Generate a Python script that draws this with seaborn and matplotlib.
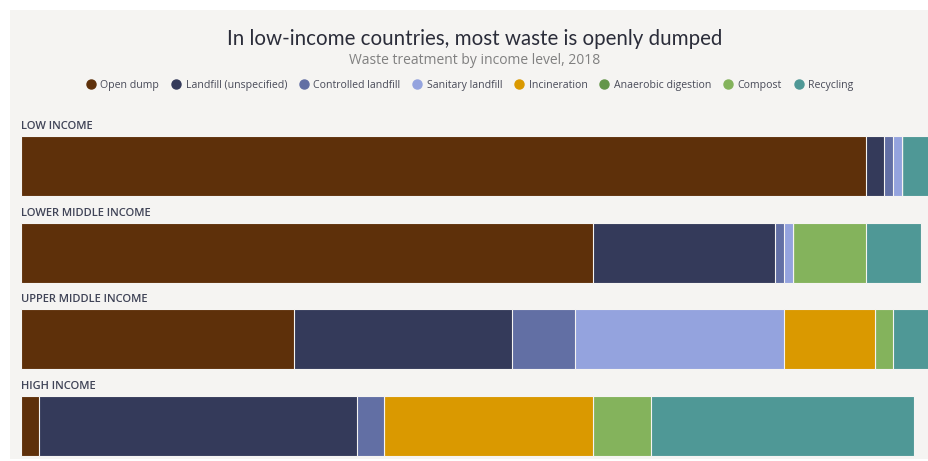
import matplotlib
matplotlib.use("Agg")
import matplotlib.pyplot as plt
from matplotlib.patches import Rectangle
from matplotlib.lines import Line2D
import matplotlib.transforms as mtransforms
import seaborn as sns
import pandas as pd
import numpy as np

# ---- data ----
categories = ["LOW INCOME", "LOWER MIDDLE INCOME", "UPPER MIDDLE INCOME", "HIGH INCOME"]
series_names = ["Open dump", "Landfill (unspecified)", "Controlled landfill", "Sanitary landfill",
                "Incineration", "Anaerobic digestion", "Compost", "Recycling"]
open_dump = [93, 63, 30, 2]
landfill_unspecified = [2, 20, 24, 35]
controlled_landfill = [1, 1, 7, 3]
sanitary_landfill = [1, 1, 23, 0]
incineration = [0, 0, 10, 23]
anaerobic_digestion = [0, 0, 0, 0]
compost = [0, 8, 2, 6.3]
recycling = [3, 6, 4, 29]

colors = ["#5e300a", "#343a5a", "#626fa4", "#94a3de", "#da9900", "#64964a", "#84b35c", "#4f9896"]

series = [open_dump, landfill_unspecified, controlled_landfill, sanitary_landfill,
          incineration, anaerobic_digestion, compost, recycling]

W, H = 929, 461
sns.set_theme(style="white")
plt.rcParams["font.family"] = ["Open Sans", "DejaVu Sans"]
fig = plt.figure(figsize=(W / 100, H / 100), dpi=100)
fig.patch.set_facecolor("white")
fig.patches.append(Rectangle((10 / W, 2 / H), 1, (459 - 10) / H, transform=fig.transFigure,
                             facecolor="#f5f4f2", edgecolor="none", zorder=-10))

# axes: x 0..100 maps to px 21..929.6 ; categories centers at 166 .. 426 px
ax_left = 21 / W
ax_w = 908.6 / W
ax = fig.add_axes([ax_left, 0.3 / H, ax_w, 346.7 / H])
ax.set_facecolor("none")

cum = np.zeros(len(categories))
cums = []
for s in series:
    cum = cum + np.array(s, dtype=float)
    cums.append(cum.copy())

for name, c, col in reversed(list(zip(series_names, cums, colors))):
    d = pd.DataFrame({"income": categories, "value": c})
    sns.barplot(data=d, x="value", y="income", order=categories, orient="h",
                color=col, saturation=1, width=0.69, errorbar=None,
                edgecolor="#f5f4f2", linewidth=0.8, ax=ax)

ax.set_xlim(0, 100)
ax.set_ylim(3.4, -0.6)
for sp in ax.spines.values():
    sp.set_visible(False)
ax.set_xticks([])
ax.set_yticks([])
ax.set_xlabel("")
ax.set_ylabel("")

trans = mtransforms.blended_transform_factory(ax.transAxes, ax.transData)
labels = []
for i, cat in enumerate(categories):
    t = ax.text(0, i - 0.345 - 0.45 * 0.25, cat, transform=trans, ha="left", va="center",
                fontsize=7.5, fontweight="semibold", color="#404457")
    labels.append(t)

title = fig.text(475 / W, 1 - 39 / H, "In low-income countries, most waste is openly dumped",
                 ha="center", va="center", fontsize=14, color="#2b2d3a", family=["Lato", "DejaVu Sans"])
subtitle = fig.text(475 / W, 1 - 60.5 / H, "Waste treatment by income level, 2018",
                    ha="center", va="center", fontsize=10, color="#808080", family=["Open Sans", "DejaVu Sans"])

handles = [Line2D([], [], marker="o", linestyle="", markersize=6.5, markerfacecolor=c,
                  markeredgecolor=c) for c in colors]
leg = fig.legend(handles, series_names, loc="center", bbox_to_anchor=(469 / W, 1 - 85 / H),
                 ncol=8, frameon=False, fontsize=7.6, handletextpad=0.3, columnspacing=1.0,
                 handlelength=1.2, borderpad=0)
for t in leg.get_texts():
    t.set_color("#484a58")

# fit text widths to the reference measurements
fig.canvas.draw()
r = fig.canvas.get_renderer()
def fit(t, target):
    w = t.get_window_extent(r).width
    t.set_fontsize(t.get_fontsize() * target / w)
fit(title, 496)
fit(subtitle, 252)
fit(labels[0], 72)
for t in labels[1:]:
    t.set_fontsize(labels[0].get_fontsize())

fig.savefig("out.png", dpi=100, facecolor="white")
